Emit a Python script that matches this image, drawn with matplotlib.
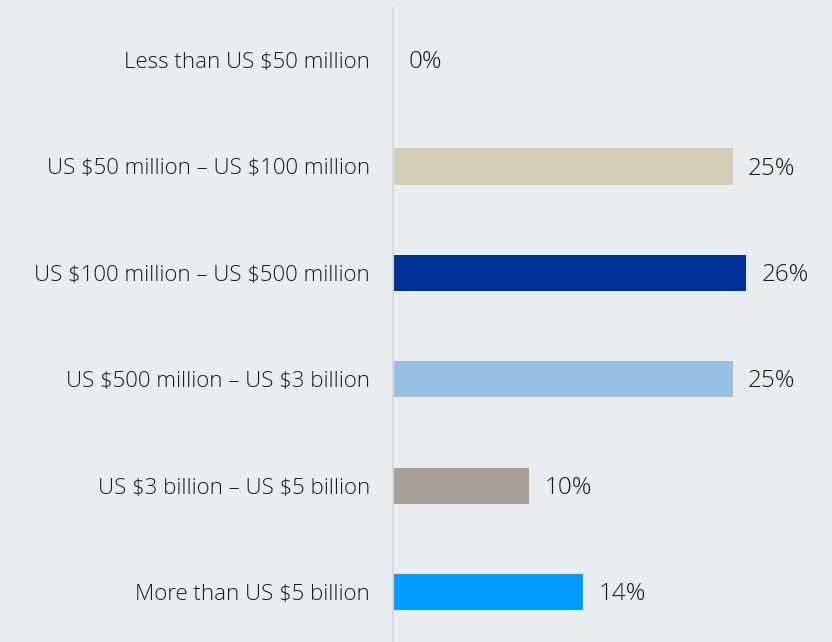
import matplotlib.pyplot as plt

categories = [
    "Less than US $50 million",
    "US $50 million \u2013 US $100 million",
    "US $100 million \u2013 US $500 million",
    "US $500 million \u2013 US $3 billion",
    "US $3 billion \u2013 US $5 billion",
    "More than US $5 billion",
]
shares = [0, 25, 26, 25, 10, 14]
bar_colors = ["#D5CDB6", "#D5CDB6", "#003399", "#98C0E3", "#A89F96", "#009CFF"]

bg = "#E9EDF0"
plt.rcParams["font.family"] = ["Open Sans", "DejaVu Sans"]
plt.rcParams["text.parse_math"] = False

fig = plt.figure(figsize=(8.32, 6.42), dpi=100, facecolor=bg)
ax = fig.add_axes([393 / 832, 0, (832 - 393) / 832, (642 - 8) / 642])
ax.set_facecolor(bg)

ypos = list(range(len(categories)))
ax.barh(ypos, shares, height=0.34, color=bar_colors)

for y, v in zip(ypos, shares):
    ax.annotate(f"{v}%", (v, y), xytext=(11, -1.5), textcoords="offset points",
                ha="left", va="center", fontsize=17.5, color="#1A1A1A",
                fontweight="light")

ax.set_xlim(0, 32.3)
ax.set_ylim(5.47, -0.49)
ax.set_yticks(ypos)
ax.set_yticklabels(categories, fontsize=16, color="#1A1A1A", fontweight="light")
ax.tick_params(axis="y", length=0, pad=16.5)
ax.set_xticks([])

for side in ["top", "right", "bottom"]:
    ax.spines[side].set_visible(False)
ax.spines["left"].set_color("#D6D8DA")
ax.spines["left"].set_linewidth(1.5)

fig.savefig("out.png", dpi=100, facecolor=bg)
